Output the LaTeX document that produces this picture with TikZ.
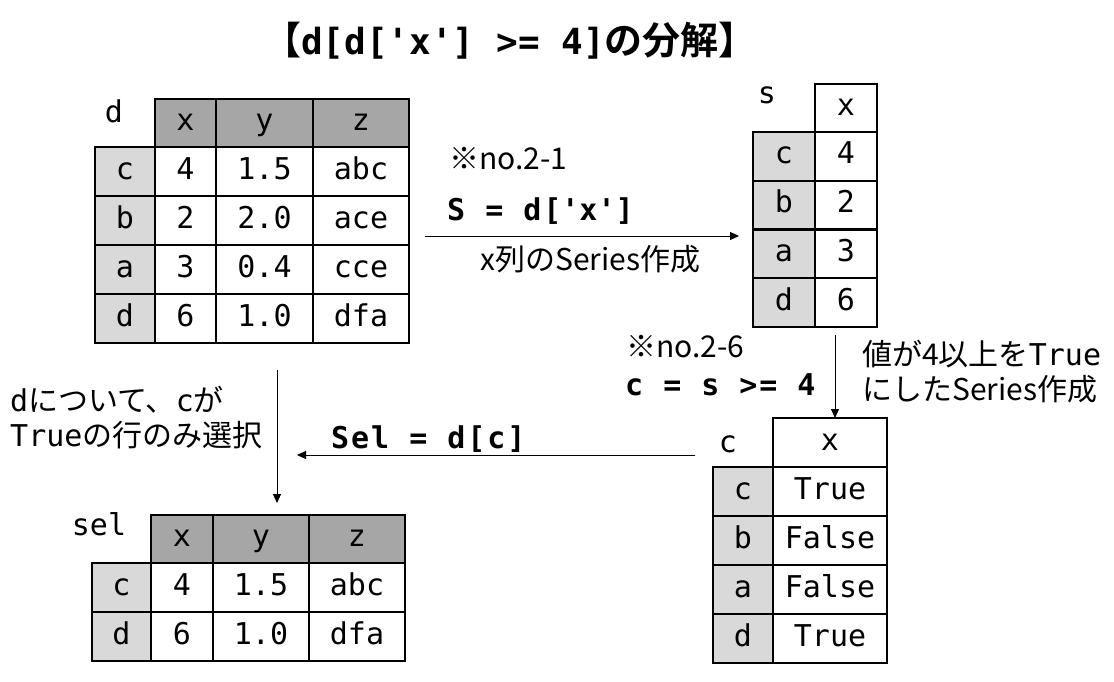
\documentclass[tikz,border=0pt]{standalone}
\usepackage{fontspec}
\usetikzlibrary{arrows.meta}
\newfontfamily\jpfont{Noto Sans CJK JP}[BoldFont={Noto Sans CJK JP Bold}]
\newfontfamily\monofont{DejaVu Sans Mono}
\newfontfamily\codefont{DejaVu Sans Mono}[LetterSpace=6.5]
\newcommand\q{\textquotesingle}

\begin{document}
\begin{tikzpicture}[x=1pt, y=-1pt,
    cell/.style={draw, line width=2pt, inner sep=0pt, minimum height=49pt,
      text height=22pt, text depth=7pt, font=\monofont\fontsize{30}{35}\selectfont},
    head/.style={cell, fill=headgray, minimum height=48pt},
    idx/.style={cell, fill=idxgray},
    lbl/.style={anchor=base, inner sep=0pt, font=\monofont\fontsize{30}{35}\selectfont},
    code/.style={anchor=base west, inner sep=0pt, font=\codefont\bfseries\fontsize{30}{36}\selectfont},
    note/.style={anchor=base west, inner sep=0pt, font=\jpfont\fontsize{30}{36}\selectfont},
    arr/.style={-{Triangle[length=9pt,width=8pt]}, line width=1pt}]
  \colorlet{headgray}{black!35}
  \colorlet{idxgray}{black!15}
  \fill[white] (0,0) rectangle (1114,682);

  \node[anchor=base, inner sep=0pt] (title) at (510,55)
    {\jpfont\bfseries\fontsize{38}{44}\selectfont 【{\monofont\bfseries\fontsize{36}{44}\selectfont d[d[\q x\q] >= 4]}の分解】};

  % d
  \node[lbl] (d-name) at (114,123) {d};
  \foreach \col/\cx/\w in {x/185.5/61, y/264.5/97, z/361/96}
    \node[head, minimum width=\w pt] (d-\col) at (\cx,123) {\col};
  \foreach \rname/\cy/\vx/\vy/\vz in {c/171.5/4/1.5/abc, b/220.5/2/2.0/ace, a/269.5/3/0.4/cce, d/318.5/6/1.0/dfa} {
    \node[idx, minimum width=60pt] (d-\rname) at (125,\cy) {\rname};
    \node[cell, minimum width=61pt] (d-\rname-x) at (185.5,\cy) {\vx};
    \node[cell, minimum width=97pt] (d-\rname-y) at (264.5,\cy) {\vy};
    \node[cell, minimum width=96pt] (d-\rname-z) at (361,\cy) {\vz};
  }

  % s
  \node[lbl] (s-name) at (767,104) {s};
  \node[cell, minimum width=62pt, minimum height=48pt] (s-x) at (846,108) {x};
  \foreach \rname/\cy/\v in {c/156.4/4, b/205.1/2, a/253.9/3, d/302.6/6} {
    \node[idx, minimum width=62pt, minimum height=48.75pt] (s-\rname) at (784,\cy) {\rname};
    \node[cell, minimum width=62pt, minimum height=48.75pt] (s-\rname-x) at (846,\cy) {\v};
  }

  % c
  \node[lbl] (c-name) at (728,452) {c};
  \node[cell, minimum width=114pt] (c-x) at (830,442.5) {x};
  \foreach \rname/\cy/\v in {c/491.5/True, b/540.5/False, a/589.5/False, d/638.5/True} {
    \node[idx, minimum width=60pt] (c-\rname) at (743,\cy) {\rname};
    \node[cell, minimum width=114pt] (c-\rname-x) at (830,\cy) {\v};
  }

  % sel
  \node[lbl] (sel-name) at (99,535) {sel};
  \foreach \col/\cx/\w in {x/182/62, y/261/96, z/357/96}
    \node[head, minimum width=\w pt] (sel-\col) at (\cx,539) {\col};
  \foreach \rname/\cy/\vx/\vy/\vz in {c/587.5/4/1.5/abc, d/636.5/6/1.0/dfa} {
    \node[idx, minimum width=59pt] (sel-\rname) at (121.5,\cy) {\rname};
    \node[cell, minimum width=62pt] (sel-\rname-x) at (182,\cy) {\vx};
    \node[cell, minimum width=96pt] (sel-\rname-y) at (261,\cy) {\vy};
    \node[cell, minimum width=96pt] (sel-\rname-z) at (357,\cy) {\vz};
  }

  % steps
  \node[note] (no21) at (449,170) {※no.2-1};
  \node[code] (code1) at (447,220) {S = d[\q x\q]};
  \node[note] (desc1) at (480,270) {x列のSeries作成};
  \node[note] (no26) at (626,357) {※no.2-6};
  \node[code] (code2) at (625,395) {c = s >= 4};
  \node[note] (desc2a) at (862,365) {値が4以上を{\monofont True}};
  \node[note] (desc2b) at (862,400) {にしたSeries作成};
  \node[code] (code3) at (331,448) {Sel = d[c]};
  \node[note] (desc3a) at (10,411) {{\monofont d}について、{\monofont c}が};
  \node[note] (desc3b) at (10,446) {{\monofont True}の行のみ選択};

  \coordinate (a1-s) at (425,236);
  \coordinate (a1-e) at (739,236);
  \coordinate (a2-s) at (835,335);
  \coordinate (a2-e) at (835,418);
  \coordinate (a3-s) at (695,455);
  \coordinate (a3-e) at (297,455);
  \coordinate (a4-s) at (277,370);
  \coordinate (a4-e) at (277,503);
  \draw[arr] (a1-s) -- (a1-e);
  \draw[arr] (a2-s) -- (a2-e);
  \draw[arr] (a3-s) -- (a3-e);
  \draw[arr] (a4-s) -- (a4-e);
\end{tikzpicture}
\end{document}
